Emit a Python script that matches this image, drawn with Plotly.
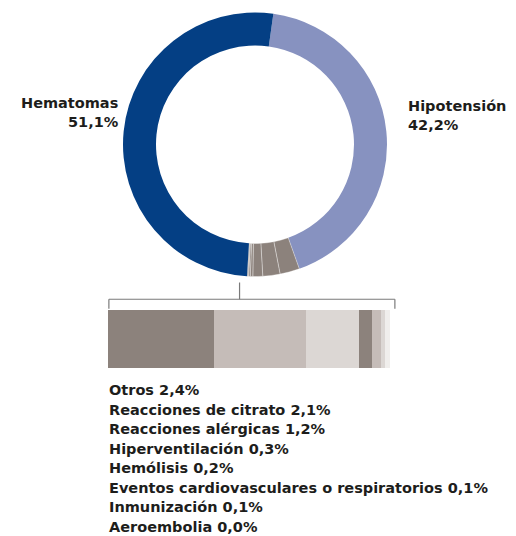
import plotly.graph_objects as go

# ---- data ----
main_labels = ["Hipotensión", "Hematomas"]
main_values = [42.2, 51.1]
other_labels = ["Otros", "Reacciones de citrato", "Reacciones alérgicas", "Hiperventilación",
                "Hemólisis", "Eventos cardiovasculares o respiratorios", "Inmunización", "Aeroembolia"]
other_values = [2.4, 2.1, 1.2, 0.3, 0.2, 0.1, 0.1, 0.0]

# ---- styles ----
BLUE = "#043f84"
LILAC = "#8792c0"
GRAY = "#8c827c"
bar_colors = ["#8c827c", "#c5bcb8", "#dcd7d4", "#8c827c", "#c5bcb8", "#dcd7d4", "#f0eeec", "#f0eeec"]
TEXT = "#1d1d1b"
FONT = "DejaVu Sans"
FW = 700
FS = 14.5

def fmt(v):
    return f"{v:.1f}".replace(".", ",") + "%"

pie_labels = [main_labels[0]] + other_labels + [main_labels[1]]
pie_values = [main_values[0]] + other_values + [main_values[1]]
pie_colors = [LILAC] + [GRAY] * len(other_values) + [BLUE]
line_w = [0] + [0.7 if v > 0 else 0 for v in other_values] + [0]

fig = go.Figure()
fig.add_trace(go.Pie(
    labels=pie_labels, values=pie_values, sort=False, direction="clockwise",
    rotation=8, hole=0.75, textinfo="none", hoverinfo="label+value",
    marker=dict(colors=pie_colors, line=dict(color="rgba(255,255,255,0.5)", width=line_w)),
    domain=dict(x=[123/516, 387/516], y=[259.5/536, 523.5/536]),
    showlegend=False,
))

for lab, val, col in zip(other_labels, other_values, bar_colors):
    fig.add_trace(go.Bar(
        x=[val], y=[0], orientation="h", marker=dict(color=col, line=dict(width=0)),
        width=1, name=lab, showlegend=False, hoverinfo="name+x",
    ))

total_other = sum(other_values)
lc = "#7a7a7a"
shapes = [
    dict(type="line", xref="x", yref="y", x0=0.02, x1=total_other + 0.12, y0=0.684, y1=0.684,
         line=dict(color=lc, width=1.2)),
    dict(type="line", xref="x", yref="y", x0=0.02, x1=0.02, y0=0.684, y1=0.52, line=dict(color=lc, width=1.2)),
    dict(type="line", xref="x", yref="y", x0=total_other + 0.12, x1=total_other + 0.12, y0=0.684, y1=0.52,
         line=dict(color=lc, width=1.2)),
    dict(type="line", xref="x", yref="y", x0=2.99, x1=2.99, y0=0.684, y1=0.97, line=dict(color=lc, width=1.2)),
]

annotations = [
    dict(text=f"{main_labels[1]}<br>{fmt(main_values[1])}", x=121/516, y=1 - 113/536, xref="paper", yref="paper",
         xanchor="right", yanchor="middle", align="right", showarrow=False,
         font=dict(family=FONT, size=FS, color=TEXT, weight=FW)),
    dict(text=f"{main_labels[0]}<br>{fmt(main_values[0])}", x=406/516, y=1 - 116/536, xref="paper", yref="paper",
         xanchor="left", yanchor="middle", align="left", showarrow=False,
         font=dict(family=FONT, size=FS, color=TEXT, weight=FW)),
]
for i, (lab, val) in enumerate(zip(other_labels, other_values)):
    annotations.append(dict(
        text=f"{lab} {fmt(val)}", x=107/516, y=1 - (390 + i * 19.5) / 536, xref="paper", yref="paper",
        xanchor="left", yanchor="middle", showarrow=False,
        font=dict(family=FONT, size=FS, color=TEXT, weight=FW),
    ))

fig.update_layout(
    width=516, height=536, margin=dict(l=0, r=0, t=0, b=0),
    paper_bgcolor="white", plot_bgcolor="white",
    barmode="stack", bargap=0,
    xaxis=dict(domain=[108/516, 398.4/516], range=[0, 6.6], visible=False, fixedrange=True),
    yaxis=dict(domain=[(536 - 368.3)/536, (536 - 280.85)/536], range=[-0.5, 1.0], visible=False, fixedrange=True),
    shapes=shapes, annotations=annotations,
)

fig.write_html("out.html", config=dict(displayModeBar=False),
               post_script="document.body.style.margin='0';document.body.style.padding='0';document.body.style.overflow='hidden';")
